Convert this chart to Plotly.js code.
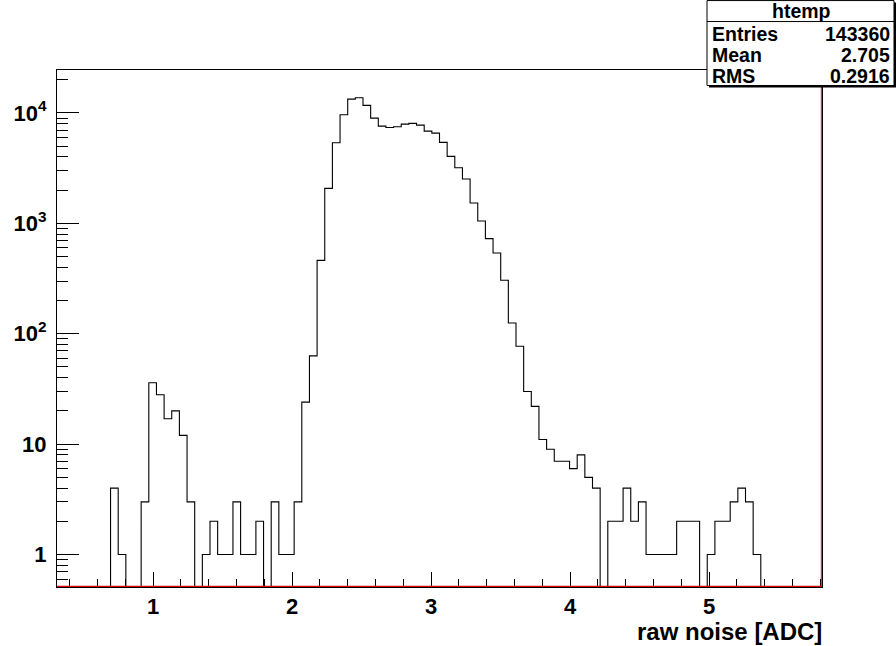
<!DOCTYPE html>
<html><head><meta charset="utf-8">
<script src="https://cdn.plot.ly/plotly-3.0.1.min.js"></script>
<style>html,body{margin:0;padding:0;background:#fff}#chart{width:896px;height:646px}</style>
</head><body><div id="chart"></div>
<script>
// ---- data ----
const binLow = 0.309;
const binWidth = 0.05504;
const counts = [0,0,0,0,0,0,0,4,1,0,
  0,3,36,28,17,20,12,3,0,1,
  2,1,1,3,1,1,2,0,3,1,
  1,3,24,63,462,2073,5370,9640,13330,13730,
  11700,8970,7600,7390,7500,7920,8040,7760,6840,6560,
  5410,4040,3190,2520,1530,1050,727,538,305,125,
  77,30,22,11,9,7,7,6,8,5,
  4,0,2,2,4,2,3,1,1,1,
  1,2,2,2,0,1,2,2,3,4,
  3,1,0,0,0,0,0,0,0,0];
const xTickVals = [1,2,3,4,5];
const xTickText = ["1","2","3","4","5"];
const yTickVals = [1,10,100,1000,10000];
const yTickText = ["1","10","10<sup>2</sup>","10<sup>3</sup>","10<sup>4</sup>"];
const histName = "htemp";
const statLabels = ["Entries","Mean","RMS"];
const statValues = ["143360","2.705","0.2916"];
const xTitle = "raw noise [ADC]";

// ---- geometry helpers (layout only) ----
const W=896,H=646,L=57,R=822,T=69.5,B=587;
const px = x => (x-L)/(R-L);
const py = y => (B-y)/(B-T);

// step outline from bins
const xs=[], ys=[];
for(let i=0;i<=counts.length;i++){
  xs.push(binLow+i*binWidth);
  const c = counts[Math.min(i,counts.length-1)];
  ys.push(c>0?c:1e-3);
}
const minorY=[];
for(let d=-1;d<=4;d++) for(let m=2;m<=9;m++) minorY.push(m*Math.pow(10,d));

const font = {family:"Liberation Sans, Arial, sans-serif", color:"#000", weight:"bold"};
const traces=[{
  type:"scatter", mode:"lines", x:xs, y:ys,
  line:{shape:"hv", color:"#000", width:1.1},
  hoverinfo:"skip", showlegend:false
}];

const shapes=[
  {type:"line", xref:"paper", yref:"paper", x0:0, x1:1, y0:py(586.3), y1:py(586.3), line:{color:"#e00000", width:1.2}, layer:"above"},
  {type:"line", xref:"paper", yref:"paper", x0:px(821.3), x1:px(821.3), y0:0, y1:1, line:{color:"#e00000", width:1}, layer:"above"},
  {type:"rect", xref:"paper", yref:"paper", x0:px(709), x1:px(896), y0:py(87), y1:py(2), fillcolor:"#000", line:{width:0}, layer:"above"},
  {type:"rect", xref:"paper", yref:"paper", x0:px(707), x1:px(894), y0:py(85), y1:py(0), fillcolor:"#fff", line:{color:"#000", width:1}, layer:"above"},
  {type:"line", xref:"paper", yref:"paper", x0:px(707), x1:px(894), y0:py(21), y1:py(21), line:{color:"#000", width:1}, layer:"above"}
];

const sf = Object.assign({}, font, {size:19.5});
const ann=[
  {xref:"paper", yref:"paper", x:px(801), y:py(10.5), text:histName, showarrow:false, xanchor:"center", yanchor:"middle", font:sf, borderpad:0}
];
const rowY=[33.5,54.5,75.5];
for(let i=0;i<statLabels.length;i++){
  ann.push({xref:"paper", yref:"paper", x:px(711), y:py(rowY[i]), text:statLabels[i], showarrow:false, xanchor:"left", yanchor:"middle", font:sf, borderpad:0});
  ann.push({xref:"paper", yref:"paper", x:px(891), y:py(rowY[i]), text:statValues[i], showarrow:false, xanchor:"right", yanchor:"middle", font:sf, borderpad:0});
}
ann.push({xref:"paper", yref:"paper", x:px(824), y:py(632), text:xTitle, showarrow:false, xanchor:"right", yanchor:"middle", font:Object.assign({}, font, {size:24})});

const layout={
  width:W, height:H,
  margin:{l:L, r:W-R, t:T, b:H-B, pad:0},
  paper_bgcolor:"#fff", plot_bgcolor:"#fff",
  showlegend:false,
  xaxis:{
    range:[binLow, binLow+counts.length*binWidth],
    showgrid:false, zeroline:false,
    showline:true, linecolor:"#000", linewidth:1, mirror:true,
    ticks:"inside", ticklen:15, tickcolor:"#000", tickwidth:1,
    tickmode:"array", tickvals:xTickVals, ticktext:xTickText,
    ticklabelstandoff:0,
    tickfont:Object.assign({}, font, {size:22}),
    minor:{ticks:"inside", ticklen:8, tickcolor:"#000", tickwidth:1, dtick:0.2, tick0:0, showgrid:false}
  },
  yaxis:{
    type:"log", range:[-0.294, 4.389],
    showgrid:false, zeroline:false,
    showline:true, linecolor:"#000", linewidth:1, mirror:true,
    ticks:"inside", ticklen:22, tickcolor:"#000", tickwidth:1,
    tickmode:"array", tickvals:yTickVals, ticktext:yTickText,
    ticklabelstandoff:5,
    tickfont:Object.assign({}, font, {size:22}),
    minor:{ticks:"inside", ticklen:11, tickcolor:"#000", tickwidth:1, tickmode:"array", tickvals:minorY, showgrid:false}
  },
  shapes:shapes, annotations:ann
};
Plotly.newPlot("chart", traces, layout, {staticPlot:true, displayModeBar:false});
</script>
</body></html>
